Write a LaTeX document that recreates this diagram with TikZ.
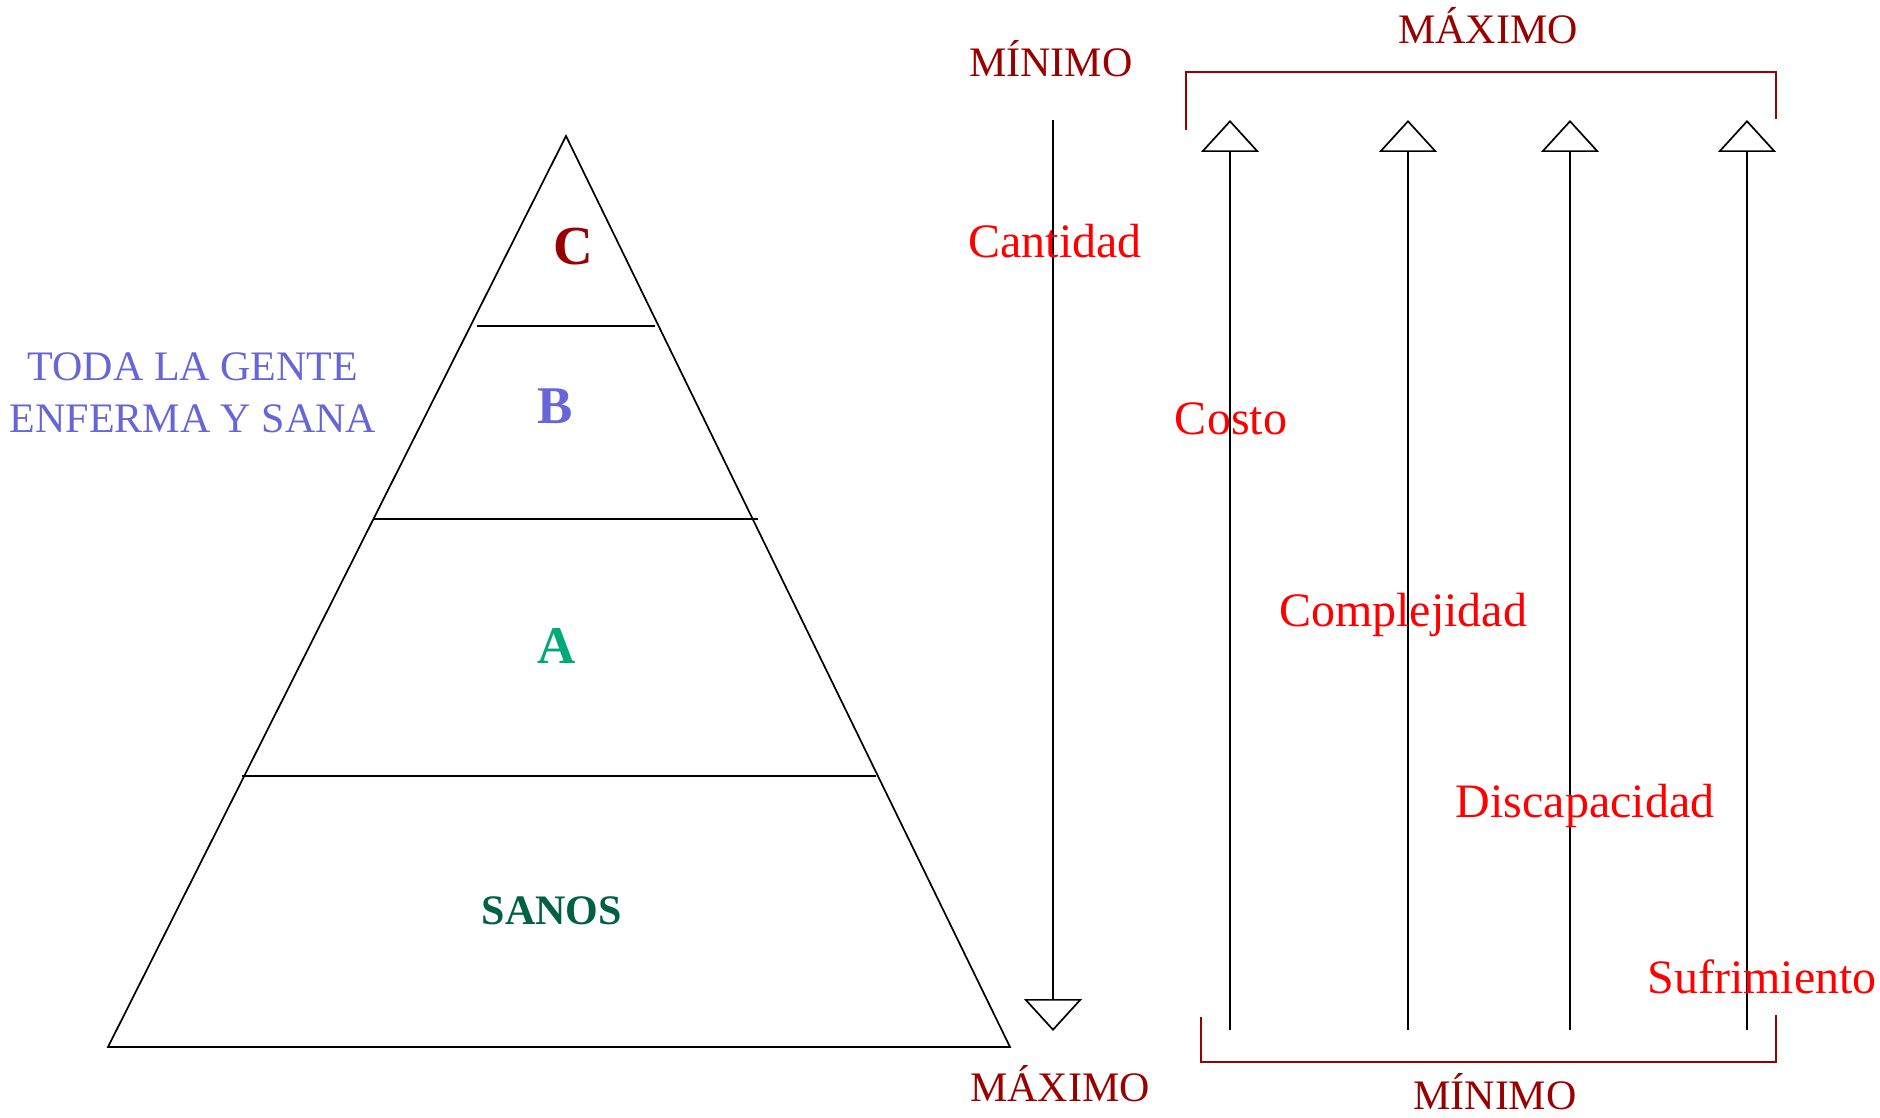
\documentclass[tikz,border=0pt]{standalone}
\usepackage{fontspec}
\setmainfont{Liberation Serif}
\usetikzlibrary{arrows.meta}
\definecolor{dred}{RGB}{153,0,0}
\definecolor{lred}{RGB}{255,0,0}
\definecolor{violetb}{RGB}{102,102,214}
\definecolor{greena}{RGB}{0,170,120}
\definecolor{greens}{RGB}{0,96,70}
\begin{document}
\begin{tikzpicture}[x=1pt,y=-1pt,
  lbl/.style={inner sep=0pt, anchor=base, font=\fontsize{48}{58}\selectfont, text=lred},
  ext/.style={inner sep=0pt, anchor=base, font=\fontsize{42}{50}\selectfont, text=dred},
  lvl/.style={inner sep=0pt, anchor=base, font=\fontsize{53}{60}\selectfont\bfseries},
  thin/.style={draw=black, line width=1.7pt},
  scaleline/.style={draw=black, line width=1.7pt, -{Triangle[open,length=32pt,width=58pt]}},
  brk/.style={draw=dred, line width=2pt}]
\useasboundingbox (0,0) rectangle (1880,1118);
% pyramid
\coordinate (apex) at (566,136);
\coordinate (bl) at (108,1047);
\coordinate (br) at (1010,1047);
\draw[thin, line join=miter] (apex) -- (bl) -- (br) -- cycle;
\coordinate (l1a) at (477,326); \coordinate (l1b) at (655,326);
\coordinate (l2a) at (374,519); \coordinate (l2b) at (758,519);
\coordinate (l3a) at (242,776); \coordinate (l3b) at (876,776);
\draw[thin] (l1a) -- (l1b);
\draw[thin] (l2a) -- (l2b);
\draw[thin] (l3a) -- (l3b);
\node[lvl, text=dred, font=\fontsize{55}{62}\selectfont\bfseries] (c) at (573,265) {C};
\node[lvl, text=violetb] (b) at (555,423) {B};
\node[lvl, text=greena] (a) at (557,663) {A};
\node[lvl, text=greens, font=\fontsize{42}{50}\selectfont\bfseries] (sanos) at (552,924) {SANOS};
\node[inner sep=0pt, anchor=base, font=\fontsize{42}{50}\selectfont, text=violetb] (t1) at (193,380) {TODA LA GENTE};
\node[inner sep=0pt, anchor=base, font=\fontsize{42}{50}\selectfont, text=violetb] (t2) at (193,432) {ENFERMA Y SANA};
% down arrow (Cantidad)
\coordinate (d0) at (1053,120);
\coordinate (d1) at (1053,1031);
\draw[scaleline] (d0) -- (d1);
% up arrows
\coordinate (u1s) at (1230,1030); \coordinate (u1e) at (1230,120);
\coordinate (u2s) at (1408,1030); \coordinate (u2e) at (1408,120);
\coordinate (u3s) at (1570,1030); \coordinate (u3e) at (1570,120);
\coordinate (u4s) at (1747,1030); \coordinate (u4e) at (1747,120);
\draw[scaleline] (u1s) -- (u1e);
\draw[scaleline] (u2s) -- (u2e);
\draw[scaleline] (u3s) -- (u3e);
\draw[scaleline] (u4s) -- (u4e);
% brackets
\coordinate (tb1) at (1186,130); \coordinate (tb2) at (1186,72);
\coordinate (tb3) at (1776,72); \coordinate (tb4) at (1776,119);
\draw[brk] (tb1) -- (tb2) -- (tb3) -- (tb4);
\coordinate (bb1) at (1201,1017); \coordinate (bb2) at (1201,1062);
\coordinate (bb3) at (1776,1062); \coordinate (bb4) at (1776,1015);
\draw[brk] (bb1) -- (bb2) -- (bb3) -- (bb4);
% extreme labels
\node[ext] (min1) at (1051,77) {MÍNIMO};
\node[ext] (max1) at (1488,44) {MÁXIMO};
\node[ext] (max2) at (1060,1101) {MÁXIMO};
\node[ext] (min2) at (1495,1109) {MÍNIMO};
% scale labels
\node[lbl] (cant) at (1055,258) {Cantidad};
\node[lbl] (costo) at (1231,434) {Costo};
\node[lbl] (compl) at (1403,626) {Complejidad};
\node[lbl] (disc) at (1585,817) {Discapacidad};
\node[lbl] (suf) at (1762,993) {Sufrimiento};
\end{tikzpicture}
\end{document}
